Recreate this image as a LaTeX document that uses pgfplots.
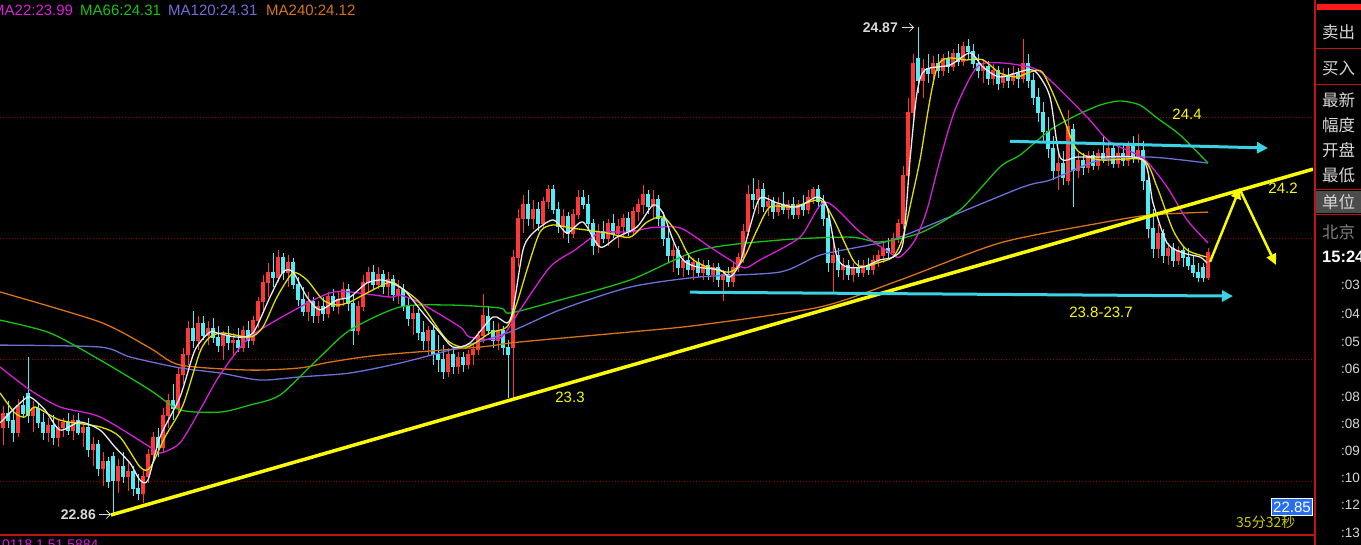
\documentclass[border=0pt]{standalone}
\usepackage{pgfplots}
\pgfplotsset{compat=1.18}
\usepackage{pgfplotstable}
\usepackage{fontspec}
\setmainfont{Liberation Sans}
\newfontfamily\cjk{Noto Sans CJK SC}
\usetikzlibrary{arrows.meta}
\definecolor{upred}{RGB}{255,55,55}
\definecolor{dncyan}{RGB}{80,235,245}
\definecolor{maw}{RGB}{235,235,235}
\definecolor{may}{RGB}{225,225,0}
\definecolor{mam}{RGB}{215,30,215}
\definecolor{mag}{RGB}{20,195,20}
\definecolor{mab}{RGB}{110,110,215}
\definecolor{mao}{RGB}{215,115,20}
\definecolor{gridred}{RGB}{140,0,0}
\definecolor{borderred}{RGB}{190,20,20}
\definecolor{arrowcyan}{RGB}{60,210,230}
\definecolor{annoy}{RGB}{250,250,0}
\definecolor{paneltxt}{RGB}{215,215,215}
\definecolor{boxblue}{RGB}{40,110,240}
\definecolor{timey}{RGB}{200,200,0}

\pgfplotstableread{
x o h l c
3 23.22 23.31 23.15 23.28
8 23.28 23.33 23.22 23.25
13 23.25 23.30 23.16 23.20
18 23.20 23.34 23.18 23.31
23 23.31 23.35 23.26 23.28
28 23.36 23.51 23.24 23.27
33 23.27 23.33 23.20 23.30
38 23.30 23.32 23.22 23.24
43 23.24 23.28 23.17 23.20
48 23.20 23.26 23.16 23.23
53 23.23 23.27 23.15 23.18
58 23.18 23.25 23.14 23.22
63 23.22 23.26 23.18 23.24
68 23.24 23.28 23.19 23.21
73 23.21 23.27 23.17 23.25
78 23.25 23.28 23.19 23.20
83 23.20 23.24 23.14 23.22
88 23.22 23.26 23.10 23.13
93 23.13 23.18 23.06 23.15
98 23.15 23.17 23.02 23.05
103 23.05 23.12 22.98 23.08
108 23.08 23.10 22.97 23.00
113 23.10 23.12 22.86 23.00
118 23.00 23.09 22.95 23.06
123 23.06 23.12 22.99 23.02
128 23.02 23.08 22.96 23.04
133 23.04 23.06 22.94 22.97
138 22.97 23.03 22.92 22.95
143 22.95 23.05 22.91 23.02
148 23.02 23.13 22.99 23.11
153 23.11 23.20 23.08 23.18
158 23.18 23.22 23.10 23.14
163 23.14 23.30 23.12 23.27
168 23.27 23.36 23.22 23.33
173 23.33 23.40 23.25 23.30
178 23.30 23.47 23.28 23.44
183 23.44 23.55 23.40 23.52
188 23.52 23.66 23.48 23.63
193 23.63 23.70 23.55 23.58
198 23.58 23.68 23.54 23.65
203 23.65 23.68 23.58 23.60
208 23.60 23.66 23.56 23.63
213 23.63 23.67 23.57 23.59
218 23.59 23.64 23.53 23.56
223 23.56 23.62 23.50 23.60
228 23.60 23.64 23.54 23.57
233 23.57 23.61 23.52 23.58
238 23.58 23.63 23.53 23.55
243 23.55 23.64 23.53 23.62
248 23.62 23.66 23.55 23.58
253 23.58 23.68 23.56 23.66
258 23.66 23.76 23.63 23.74
263 23.74 23.85 23.70 23.82
268 23.82 23.90 23.76 23.86
273 23.86 23.94 23.80 23.84
278 23.84 23.95 23.82 23.92
283 23.92 23.94 23.83 23.86
288 23.86 23.93 23.80 23.90
293 23.90 23.92 23.79 23.81
298 23.81 23.84 23.72 23.75
303 23.75 23.80 23.68 23.70
308 23.70 23.78 23.66 23.74
313 23.74 23.76 23.65 23.68
318 23.68 23.74 23.65 23.72
323 23.72 23.76 23.66 23.69
328 23.69 23.78 23.67 23.76
333 23.76 23.79 23.70 23.72
338 23.72 23.78 23.69 23.75
343 23.75 23.82 23.72 23.79
348 23.79 23.81 23.70 23.73
353 23.73 23.77 23.56 23.62
358 23.62 23.74 23.60 23.72
363 23.72 23.85 23.70 23.82
368 23.82 23.88 23.78 23.86
373 23.86 23.89 23.79 23.81
378 23.81 23.88 23.79 23.85
383 23.85 23.87 23.77 23.80
388 23.80 23.86 23.76 23.83
393 23.83 23.85 23.74 23.77
398 23.77 23.83 23.73 23.79
403 23.79 23.81 23.70 23.72
408 23.72 23.76 23.64 23.67
413 23.67 23.72 23.60 23.69
418 23.69 23.71 23.58 23.61
423 23.61 23.66 23.54 23.58
428 23.58 23.64 23.52 23.62
433 23.62 23.64 23.48 23.52
438 23.52 23.60 23.45 23.50
443 23.50 23.56 23.42 23.45
448 23.45 23.55 23.43 23.52
453 23.52 23.55 23.44 23.47
458 23.47 23.53 23.44 23.51
463 23.51 23.53 23.45 23.48
468 23.48 23.54 23.46 23.52
473 23.52 23.56 23.48 23.54
478 23.54 23.62 23.52 23.60
483 23.60 23.77 23.57 23.68
488 23.68 23.72 23.60 23.62
493 23.62 23.66 23.55 23.58
498 23.58 23.65 23.54 23.62
503 23.62 23.64 23.52 23.55
508 23.55 23.58 23.34 23.52
513 23.55 23.95 23.34 23.92
518 23.92 24.12 23.88 24.08
523 24.08 24.18 24.02 24.14
528 24.14 24.20 24.05 24.08
533 24.08 24.16 24.04 24.12
538 24.12 24.15 24.03 24.06
543 24.06 24.17 24.04 24.15
548 24.15 24.22 24.12 24.20
553 24.20 24.22 24.10 24.12
558 24.12 24.15 24.02 24.05
563 24.05 24.12 24.00 24.09
568 24.09 24.11 23.98 24.02
573 24.02 24.12 24.00 24.10
578 24.10 24.20 24.08 24.17
583 24.17 24.20 24.12 24.14
588 24.14 24.18 24.04 24.06
593 24.06 24.08 23.93 23.97
598 23.97 24.06 23.94 24.03
603 24.03 24.07 23.98 24.00
608 24.00 24.08 23.97 24.06
613 24.06 24.10 24.00 24.02
618 24.02 24.08 23.96 24.05
623 24.05 24.10 24.00 24.08
628 24.08 24.11 24.01 24.03
633 24.03 24.13 24.01 24.11
638 24.11 24.16 24.07 24.14
643 24.14 24.22 24.10 24.18
648 24.18 24.20 24.10 24.13
653 24.13 24.20 24.08 24.16
658 24.16 24.18 24.05 24.08
663 24.08 24.11 23.97 24.00
668 24.00 24.04 23.90 23.93
673 23.93 23.98 23.86 23.95
678 23.95 23.97 23.85 23.88
683 23.88 23.93 23.84 23.91
688 23.91 23.94 23.85 23.87
693 23.87 23.92 23.83 23.90
698 23.90 23.92 23.84 23.86
703 23.86 23.91 23.83 23.89
708 23.89 23.91 23.83 23.85
713 23.85 23.90 23.82 23.88
718 23.88 23.90 23.80 23.83
723 23.83 23.87 23.74 23.85
728 23.85 23.88 23.80 23.82
733 23.82 23.90 23.80 23.88
738 23.88 23.94 23.86 23.92
743 23.92 24.06 23.90 24.03
748 24.03 24.22 24.01 24.18
753 24.18 24.25 24.12 24.16
758 24.16 24.24 24.10 24.20
763 24.20 24.23 24.11 24.13
768 24.13 24.18 24.09 24.15
773 24.15 24.17 24.08 24.11
778 24.11 24.17 24.09 24.14
783 24.14 24.19 24.10 24.12
788 24.12 24.16 24.08 24.14
793 24.14 24.17 24.08 24.10
798 24.10 24.16 24.08 24.14
803 24.14 24.18 24.09 24.12
808 24.12 24.20 24.10 24.17
813 24.17 24.21 24.14 24.20
818 24.20 24.22 24.12 24.15
823 24.15 24.18 24.05 24.08
828 24.08 24.10 23.86 23.90
833 23.90 23.98 23.78 23.93
838 23.93 23.96 23.84 23.87
843 23.87 23.92 23.83 23.89
848 23.89 23.91 23.83 23.85
853 23.85 23.90 23.82 23.88
858 23.88 23.91 23.84 23.86
863 23.86 23.91 23.84 23.89
868 23.89 23.92 23.85 23.87
873 23.87 23.93 23.85 23.91
878 23.91 23.95 23.88 23.93
883 23.93 23.98 23.90 23.96
888 23.96 24.00 23.92 23.94
893 23.94 24.02 23.92 24.00
898 24.00 24.08 23.98 24.06
903 24.06 24.30 24.04 24.26
908 24.26 24.58 24.22 24.52
913 24.52 24.76 24.48 24.72
918 24.74 24.87 24.60 24.65
923 24.65 24.74 24.58 24.70
928 24.70 24.76 24.64 24.68
933 24.68 24.75 24.63 24.72
938 24.72 24.76 24.66 24.69
943 24.69 24.76 24.67 24.74
948 24.74 24.77 24.68 24.71
953 24.71 24.78 24.69 24.76
958 24.76 24.80 24.71 24.73
963 24.73 24.81 24.71 24.79
968 24.79 24.82 24.74 24.77
973 24.77 24.80 24.70 24.72
978 24.72 24.76 24.66 24.69
983 24.69 24.74 24.64 24.71
988 24.71 24.73 24.63 24.66
993 24.66 24.72 24.63 24.69
998 24.69 24.71 24.61 24.64
1003 24.64 24.70 24.62 24.67
1008 24.67 24.70 24.62 24.65
1013 24.65 24.71 24.63 24.68
1018 24.68 24.70 24.62 24.66
1023 24.66 24.82 24.64 24.72
1028 24.72 24.76 24.62 24.65
1033 24.65 24.68 24.55 24.58
1038 24.58 24.62 24.48 24.52
1043 24.52 24.56 24.40 24.44
1048 24.44 24.50 24.33 24.37
1053 24.37 24.42 24.24 24.28
1058 24.28 24.35 24.20 24.31
1063 24.31 24.36 24.22 24.25
1068 24.24 24.53 24.22 24.46
1073 24.45 24.47 24.13 24.28
1078 24.28 24.35 24.25 24.32
1083 24.32 24.35 24.26 24.29
1088 24.29 24.36 24.27 24.34
1093 24.34 24.36 24.28 24.30
1098 24.30 24.37 24.28 24.35
1103 24.35 24.42 24.31 24.33
1108 24.33 24.40 24.30 24.37
1113 24.37 24.39 24.29 24.31
1118 24.31 24.38 24.29 24.35
1123 24.35 24.39 24.30 24.32
1128 24.32 24.40 24.30 24.38
1133 24.38 24.42 24.31 24.33
1138 24.33 24.43 24.31 24.36
1143 24.36 24.40 24.20 24.24
1148 24.24 24.27 24.00 24.04
1153 24.04 24.12 23.92 23.96
1158 23.96 24.06 23.92 24.02
1163 24.02 24.04 23.90 23.93
1168 23.93 23.98 23.89 23.96
1173 23.96 23.98 23.88 23.91
1178 23.91 23.97 23.89 23.95
1183 23.95 23.97 23.88 23.92
1188 23.92 23.96 23.87 23.89
1193 23.89 23.93 23.84 23.86
1198 23.86 23.90 23.82 23.84
1203 23.88 23.90 23.82 23.84
1208 23.84 23.96 23.83 23.94
}\candles

\pgfplotsset{
  candle/.style={draw=none, mark=none, restrict y to domain=22:26,
    error bars/.cd, y dir=both, y explicit, error mark=none},
  ma/.style={line width=1.3pt, smooth, tension=0.45, mark=none},
  gridl/.style={gridred, dotted, line width=0.9pt},
}

\begin{document}
\begin{tikzpicture}[x=1pt,y=1pt]
\useasboundingbox (0,0) rectangle (1361,545);
\clip (0,0) rectangle (1361,545);
\fill[black] (0,0) rectangle (1361,545);

\begin{axis}[
  at={(0pt,10pt)}, anchor=south west,
  scale only axis, width=1313pt, height=535pt,
  xmin=0, xmax=1313, ymin=22.7775, ymax=24.9821,
  hide axis,
  clip=true,
]
% grid lines
\addplot[gridl] coordinates {(0,23) (1313,23)};
\addplot[gridl] coordinates {(0,23.5) (1313,23.5)};
\addplot[gridl] coordinates {(0,24) (1313,24)};
\addplot[gridl] coordinates {(0,24.5) (1313,24.5)};
% wicks (up = red, down = cyan)
\addplot[candle, error bar style={draw=upred, solid, line width=1pt}]
  table[x=x, y expr={\thisrow{c}>=\thisrow{o} ? (\thisrow{h}+\thisrow{l})/2 : -100}, y error expr={(\thisrow{h}-\thisrow{l})/2}] {\candles};
\addplot[candle, error bar style={draw=dncyan, solid, line width=1pt}]
  table[x=x, y expr={\thisrow{c}<\thisrow{o} ? (\thisrow{h}+\thisrow{l})/2 : -100}, y error expr={(\thisrow{h}-\thisrow{l})/2}] {\candles};
% bodies
\addplot[candle, error bar style={draw=upred, solid, line width=3.2pt}]
  table[x=x, y expr={\thisrow{c}>=\thisrow{o} ? (\thisrow{o}+\thisrow{c})/2 : -100}, y error expr={abs(\thisrow{c}-\thisrow{o})/2+0.002}] {\candles};
\addplot[candle, error bar style={draw=dncyan, solid, line width=3.2pt}]
  table[x=x, y expr={\thisrow{c}<\thisrow{o} ? (\thisrow{o}+\thisrow{c})/2 : -100}, y error expr={abs(\thisrow{c}-\thisrow{o})/2+0.002}] {\candles};

% MA240 orange
\addplot[ma, mao] coordinates {(0,23.779) (100,23.655) (150,23.548) (180,23.478) (250,23.457) (300,23.466) (330,23.490) (380,23.519) (480,23.552) (520,23.573) (630,23.614) (700,23.643) (820,23.717) (900,23.828) (1000,23.981) (1100,24.063) (1150,24.096) (1208,24.108)};
% MA120 blue
\addplot[ma, mab] coordinates {(0,23.560) (100,23.552) (130,23.511) (180,23.466) (220,23.445) (260,23.416) (300,23.429) (350,23.445) (400,23.486) (450,23.540) (507,23.610) (560,23.705) (630,23.799) (700,23.841) (780,23.861) (820,23.931) (870,23.973) (900,24.005) (1020,24.207) (1050,24.240) (1100,24.323) (1150,24.335) (1208,24.310)};
% MA66 green
\addplot[ma, mag] coordinates {(0,23.663) (50,23.610) (100,23.499) (150,23.375) (180,23.293) (220,23.284) (250,23.313) (280,23.354) (317,23.499) (350,23.622) (400,23.717) (450,23.725) (500,23.713) (510,23.692) (560,23.746) (630,23.828) (700,23.952) (780,23.993) (850,24.005) (880,23.985) (920,24.022) (960,24.117) (1000,24.294) (1020,24.343) (1050,24.446) (1077,24.508) (1100,24.549) (1120,24.566) (1140,24.549) (1157,24.496) (1180,24.426) (1208,24.310)};
% MA22 magenta
\addplot[ma, mam] coordinates {(0,23.470) (30,23.375) (60,23.305) (100,23.264) (150,23.140) (160,23.115) (180,23.157) (200,23.293) (220,23.437) (250,23.593) (300,23.717) (330,23.775) (350,23.779) (390,23.758) (400,23.766) (420,23.734) (460,23.635) (470,23.593) (500,23.589) (520,23.705) (550,23.882) (575,23.952) (600,24.022) (630,24.026) (650,24.043) (680,24.043) (710,23.964) (730,23.911) (745,23.878) (760,23.911) (800,24.005) (825,24.150) (860,24.026) (890,23.940) (900,23.923) (915,23.993) (927,24.117) (940,24.323) (955,24.529) (977,24.706) (1000,24.723) (1033,24.702) (1050,24.652) (1087,24.500) (1110,24.397) (1143,24.331) (1167,24.212) (1187,24.076) (1208,23.981)};
% MA10 yellow
\addplot[ma, may] coordinates {(0,23.363) (15,23.280) (25,23.264) (35,23.305) (60,23.251) (100,23.223) (120,23.181) (140,23.058) (150,23.054) (165,23.181) (183,23.313) (200,23.532) (210,23.593) (223,23.610) (250,23.593) (263,23.635) (277,23.758) (293,23.857) (307,23.828) (323,23.746) (337,23.725) (350,23.738) (367,23.775) (390,23.820) (400,23.799) (420,23.734) (447,23.581) (467,23.552) (490,23.610) (507,23.635) (517,23.734) (527,23.870) (540,24.026) (553,24.055) (570,24.043) (587,24.034) (607,24.022) (630,24.005) (647,24.067) (663,24.088) (677,24.022) (690,23.923) (707,23.882) (730,23.861) (743,23.911) (757,24.034) (770,24.129) (793,24.129) (820,24.158) (833,24.084) (853,23.911) (863,23.882) (877,23.898) (893,23.923) (903,24.005) (913,24.187) (920,24.323) (938,24.714) (967,24.735) (983,24.735) (1000,24.681) (1017,24.665) (1030,24.685) (1043,24.681) (1063,24.500) (1077,24.364) (1100,24.323) (1143,24.323) (1157,24.212) (1173,24.034) (1187,23.952) (1207,23.923)};
% MA5 white
\addplot[ma, maw] coordinates {(0,23.239) (20,23.321) (30,23.346) (45,23.293) (60,23.210) (80,23.243) (100,23.210) (115,23.140) (130,23.074) (140,23.004) (148,23.004) (160,23.181) (180,23.346) (195,23.540) (210,23.614) (217,23.610) (237,23.593) (253,23.610) (270,23.758) (283,23.861) (293,23.861) (307,23.758) (320,23.705) (337,23.746) (350,23.758) (367,23.816) (383,23.828) (400,23.799) (407,23.775) (423,23.692) (440,23.610) (453,23.552) (470,23.569) (493,23.676) (507,23.651) (513,23.705) (523,23.952) (533,24.022) (553,24.076) (567,24.022) (583,24.067) (600,23.964) (617,24.005) (637,24.047) (653,24.137) (663,24.104) (673,23.993) (683,23.911) (697,23.882) (720,23.870) (730,23.841) (740,23.898) (750,24.047) (760,24.166) (777,24.146) (797,24.129) (817,24.170) (827,24.129) (837,23.923) (847,23.882) (863,23.882) (880,23.911) (893,23.923) (903,23.981) (910,24.323) (917,24.599) (925,24.694) (950,24.714) (970,24.764) (983,24.706) (1000,24.665) (1027,24.694) (1037,24.681) (1050,24.582) (1060,24.335) (1077,24.335) (1100,24.335) (1143,24.323) (1153,24.146) (1167,23.981) (1183,23.940) (1200,23.923) (1207,23.898)};

% trend line
\addplot[annoy, line width=3.5pt] coordinates {(111,22.86) (1313,24.285)};

% cyan arrows
\draw[arrowcyan, line width=3pt, -{Triangle[length=11pt,width=11pt]}] (axis cs:1010,24.40) -- (axis cs:1268,24.372);
\draw[arrowcyan, line width=3pt, -{Triangle[length=11pt,width=11pt]}] (axis cs:690,23.778) -- (axis cs:1233,23.762);
% yellow arrows
\draw[annoy, line width=2.5pt, -{Triangle[length=11pt,width=10pt]}] (axis cs:1210,23.903) -- (axis cs:1240,24.208);
\draw[annoy, line width=2.5pt, -{Triangle[length=11pt,width=10pt]}] (axis cs:1240,24.200) -- (axis cs:1276,23.89);
\end{axis}

% text annotations
\begin{scope}[every node/.style={inner sep=0pt}]
\node[annoy, font=\fontsize{15}{16}\selectfont, anchor=center] at (570,148) {23.3};
\node[annoy, font=\fontsize{15}{16}\selectfont, anchor=center] at (1187,431) {24.4};
\node[annoy, font=\fontsize{15}{16}\selectfont, anchor=center] at (1101,233) {23.8-23.7};
\node[annoy, font=\fontsize{15}{16}\selectfont, anchor=center] at (1283,357) {24.2};
% extremes
\node[white!85!black, font=\bfseries\fontsize{14}{15}\selectfont, anchor=east] at (898,517) {24.87};
\draw[white!85!black, line width=0.8pt, -{Straight Barb[length=4pt]}] (902,517.5) -- (914,517.5);
\node[white!85!black, font=\bfseries\fontsize{14}{15}\selectfont, anchor=east] at (96,30) {22.86};
\draw[white!85!black, line width=0.8pt, -{Straight Barb[length=4pt]}] (99,30.5) -- (111,30.5);
% legend line
\node[mam, font=\fontsize{15}{16}\selectfont, anchor=west] at (-8,535) {MA22:23.99};
\node[mag, font=\fontsize{15}{16}\selectfont, anchor=west] at (80,535) {MA66:24.31};
\node[mab, font=\fontsize{15}{16}\selectfont, anchor=west] at (168,535) {MA120:24.31};
\node[mao, font=\fontsize{15}{16}\selectfont, anchor=west] at (266,535) {MA240:24.12};
% bottom
\node[timey, font=\cjk\fontsize{14}{15}\selectfont, anchor=west] at (1236,23) {35分32秒};
\node[fill=boxblue, draw=white, line width=0.6pt, text=white, font=\fontsize{15}{16}\selectfont, inner xsep=2pt, inner ysep=3pt, anchor=east] at (1313,38) {22.85};
\node[mam, font=\fontsize{14}{15}\selectfont, anchor=north west] at (2,5) {0118 1.51 5884};
\end{scope}

% borders
\draw[borderred, line width=1.2pt] (0,10) -- (1315,10);
\draw[borderred, line width=1.2pt] (1315,0) -- (1315,545);
% right panel
\fill[red!90!white] (1317,535) rectangle (1361,541);
\draw[borderred, line width=1pt] (1315,496) -- (1361,496);
\draw[borderred, line width=1pt] (1315,460) -- (1361,460);
\fill[gray!60!black] (1316,332) rectangle (1361,354);
\draw[borderred, line width=1pt] (1315,355) -- (1361,355);
\draw[borderred, line width=1pt] (1315,330) -- (1361,330);
\begin{scope}[every node/.style={inner sep=0pt, anchor=west, text=paneltxt, font=\cjk\fontsize{16.5}{17}\selectfont}]
\node at (1322,513) {卖出};
\node at (1322,477) {买入};
\node at (1322,445) {最新};
\node at (1322,420) {幅度};
\node at (1322,395) {开盘};
\node at (1322,370) {最低};
\node at (1322,343) {单位};
\node[text=gray] at (1322,313) {北京};
\end{scope}
\node[inner sep=0pt, anchor=west, white, font=\bfseries\fontsize{16.5}{17}\selectfont] at (1322,288) {15:24};
\begin{scope}[every node/.style={inner sep=0pt, anchor=west, text=paneltxt, font=\fontsize{13.5}{14}\selectfont}]
\node at (1341,260) {:03};
\node at (1341,231) {:04};
\node at (1341,203) {:05};
\node at (1341,176) {:06};
\node at (1341,148) {:08};
\node at (1341,121) {:08};
\node at (1341,94) {:09};
\node at (1341,67) {:10};
\node at (1341,40) {:12};
\node at (1341,12) {:13};
\end{scope}
\end{tikzpicture}
\end{document}
